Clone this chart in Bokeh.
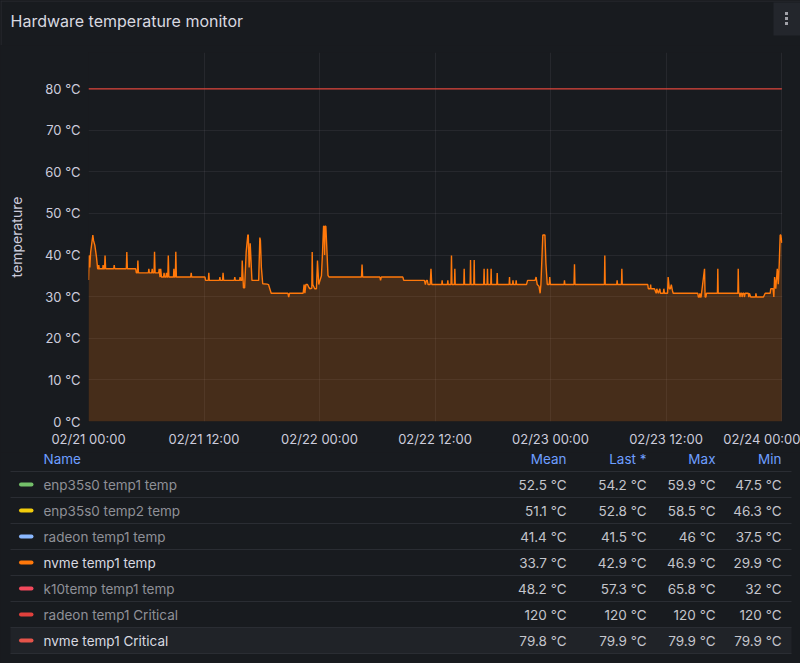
import pandas as pd
from bokeh.plotting import figure
from bokeh.models import Range1d, FixedTicker, PrintfTickFormatter, DatetimeTickFormatter, ColumnDataSource
from bokeh.layouts import column
from bokeh.embed import file_html
from bokeh.resources import INLINE
from bokeh.core.properties import value

# ---------------- data ----------------
TITLE = "Hardware temperature monitor"
Y_LABEL = "temperature"
YEAR = "2024"
x_tick_labels = ["02/21 00:00", "02/21 12:00", "02/22 00:00", "02/22 12:00",
                 "02/23 00:00", "02/23 12:00", "02/24 00:00"]
y_ticks = [0, 10, 20, 30, 40, 50, 60, 70, 80]

# nvme temp1 temp : hours since 02/21 00:00, temperature in degC
nvme_hours = [
    0.00, 0.06, 0.14, 0.22, 0.45, 0.52, 0.66, 0.83, 0.95, 1.03, 1.07, 1.12, 1.48, 1.52, 1.57,
    1.67, 1.72, 1.78, 2.62, 2.67, 2.72, 3.93, 3.98, 4.04, 4.90, 4.97, 5.08, 5.13, 5.19, 6.22,
    6.27, 6.32, 6.57, 6.62, 6.67, 6.81, 6.86, 6.92, 7.30, 7.34, 7.43, 7.50, 7.58, 7.80, 7.85,
    7.92, 8.05, 8.10, 8.16, 8.24, 8.29, 8.35, 8.83, 8.87, 8.92, 9.02, 9.07, 9.13, 10.62, 10.67,
    10.72, 12.10, 12.16, 12.45, 12.50, 12.55, 13.60, 13.65, 13.70, 13.93, 13.98, 14.04, 15.15,
    15.20, 15.25, 15.70, 15.75, 15.80, 15.92, 15.97, 16.10, 16.22, 16.38, 16.55, 16.60, 16.69,
    16.80, 16.98, 17.68, 17.80, 17.86, 17.96, 18.10, 18.55, 18.70, 18.98, 20.72, 20.80, 20.88,
    22.30, 22.40, 22.48, 22.58, 22.75, 22.90, 23.00, 23.20, 23.24, 23.30, 23.50, 23.68, 23.79,
    23.92, 24.05, 24.20, 24.30, 24.42, 24.48, 24.53, 24.58, 24.66, 24.78, 24.88, 25.00, 28.36,
    28.42, 28.48, 30.27, 30.34, 30.42, 32.66, 32.75, 34.90, 35.00, 35.10, 35.20, 35.28, 35.50,
    35.58, 35.66, 36.70, 36.74, 36.78, 37.29, 37.33, 37.37, 37.66, 37.71, 37.76, 38.02, 38.06,
    38.10, 38.99, 39.03, 39.07, 39.65, 39.69, 39.73, 40.03, 40.07, 40.11, 41.06, 41.10, 41.14,
    41.41, 41.45, 41.49, 41.79, 41.83, 41.87, 42.42, 42.46, 42.50, 43.70, 43.74, 43.78, 44.06,
    44.10, 44.14, 44.39, 44.43, 44.47, 45.50, 45.62, 46.40, 46.50, 46.62, 46.80, 46.92, 47.00,
    47.20, 47.42, 47.52, 47.66, 47.86, 47.92, 47.98, 49.41, 49.45, 49.49, 50.44, 50.49, 50.54,
    53.60, 53.64, 53.68, 54.88, 54.92, 54.96, 55.37, 55.41, 55.45, 58.10, 58.16, 58.36, 58.40,
    58.44, 58.75, 58.80, 58.98, 59.04, 59.20, 59.36, 59.42, 59.72, 59.77, 59.84, 60.16, 60.22,
    60.34, 60.45, 60.55, 60.66, 60.74, 63.30, 63.36, 63.46, 63.52, 63.58, 63.64, 64.00, 64.06,
    64.14, 64.20, 65.34, 65.38, 65.42, 67.46, 67.50, 67.55, 67.64, 67.68, 67.74, 67.86, 67.90,
    67.98, 68.10, 68.14, 68.22, 68.55, 68.60, 68.66, 68.80, 69.30, 69.34, 69.40, 70.12, 70.30,
    70.82, 70.88, 71.12, 71.20, 71.28, 71.40, 71.56, 71.66, 71.76, 71.86, 71.93, 72.03,
]
nvme_temp = [
    34.0, 39.9, 37.0, 40.6, 44.8, 43.5, 42.3, 39.5, 36.7, 36.7, 37.6, 36.7, 36.7, 37.6, 36.7,
    36.7, 39.9, 36.7, 36.7, 37.6, 36.7, 36.7, 40.7, 36.7, 36.7, 35.7, 35.7, 38.7, 35.7, 35.7,
    36.7, 35.7, 35.7, 36.7, 35.7, 35.7, 40.8, 35.7, 35.7, 36.7, 34.7, 36.7, 34.7, 34.7, 35.7,
    34.7, 34.7, 35.7, 34.7, 34.7, 39.9, 34.7, 34.7, 36.7, 34.7, 34.7, 40.8, 34.7, 34.7, 35.7,
    34.7, 34.7, 33.9, 33.9, 35.7, 33.9, 33.9, 34.7, 33.9, 33.9, 35.7, 33.9, 33.9,
    34.7, 33.9, 33.9, 34.7, 33.9, 33.9, 38.7, 32.1, 32.1, 40.7, 44.8, 44.8, 37.0,
    42.8, 33.9, 33.9, 44.2, 43.5, 37.0, 33.1, 33.0, 32.9, 30.8, 30.8, 29.9, 30.8,
    30.8, 32.9, 30.8, 32.9, 32.9, 32.2, 31.9, 32.0, 40.7, 32.9, 31.9, 31.9, 38.7,
    32.9, 33.9, 35.0, 40.0, 46.9, 46.9, 40.0, 46.9, 46.9, 40.5, 35.1, 34.7, 34.7,
    37.7, 34.7, 34.7, 33.9, 34.7, 34.7, 33.9, 33.9, 32.9, 33.9, 33.9, 32.9, 32.9,
    36.7, 32.9, 32.9, 33.9, 32.9, 32.9, 33.9, 32.9, 32.9, 39.9, 32.9, 32.9, 36.7,
    32.9, 32.9, 36.7, 32.9, 32.9, 38.8, 32.9, 32.9, 38.8, 32.9, 32.9, 36.7, 32.9,
    32.9, 36.7, 32.9, 32.9, 36.7, 32.9, 32.9, 35.7, 32.9, 32.9, 34.7, 32.9, 32.9,
    33.9, 32.9, 32.9, 33.9, 32.9, 32.9, 33.9, 33.9, 34.7, 32.9, 32.5, 30.8, 32.9,
    44.8, 44.8, 38.0, 32.9, 32.9, 34.7, 32.9, 32.9, 33.9, 32.9, 32.9, 37.8, 32.9,
    32.9, 39.9, 32.9, 32.9, 33.9, 32.9, 32.9, 36.7, 32.9, 32.9, 31.9, 31.9, 32.9,
    31.9, 31.9, 31.9, 30.8, 31.9, 30.8, 31.9, 30.8, 30.8, 31.9, 30.8, 30.8, 34.7,
    31.9, 31.9, 32.9, 31.5, 30.8, 30.8, 29.9, 29.9, 30.8, 29.9, 29.9, 36.7, 29.9,
    29.9, 30.8, 30.8, 36.7, 30.8, 30.8, 36.7, 30.8, 30.8, 29.9, 30.8, 30.8, 29.9,
    30.8, 30.8, 29.9, 30.8, 30.8, 29.9, 30.8, 29.9, 29.9, 30.8, 29.9, 29.9, 30.8,
    30.8, 31.9, 31.9, 29.9, 34.7, 31.9, 36.7, 33.0, 37.8, 44.8, 44.8, 42.9,
]

# nvme temp1 Critical
crit_hours = [0.0, 72.03]
crit_temp = [79.9, 79.9]

legend_names = ["enp35s0 temp1 temp", "enp35s0 temp2 temp", "radeon temp1 temp", "nvme temp1 temp",
                "k10temp temp1 temp", "radeon temp1 Critical", "nvme temp1 Critical"]
legend_colors = ["#73BF69", "#F2CC0C", "#8AB8FF", "#FF780A", "#F2495C", "#E0403C", "#E5544A"]
legend_visible = [False, False, False, True, False, False, True]
stat_headers = ["Mean", "Last *", "Max", "Min"]
stat_mean = [52.5, 51.1, 41.4, 33.7, 48.2, 120, 79.8]
stat_last = [54.2, 52.8, 41.5, 42.9, 57.3, 120, 79.9]
stat_max = [59.9, 58.5, 46, 46.9, 65.8, 120, 79.9]
stat_min = [47.5, 46.3, 37.5, 29.9, 32, 120, 79.9]

# ---------------- style ----------------
BG = "#181b1f"
FONT = "Inter"
TEXT = "#ccccdc"
GRID = "#ccccdc"
ORANGE = "#FF780A"
CRIT = "#DC4339"
W = 800


def blank_fig(h):
    f = figure(width=W, height=h, x_range=Range1d(0, W), y_range=Range1d(h, 0),
               x_axis_location=None, y_axis_location=None, toolbar_location=None,
               output_backend="svg", min_border=0, min_border_left=0, min_border_right=0,
               min_border_top=0, min_border_bottom=0, background_fill_color=BG,
               border_fill_color=BG, outline_line_color=None)
    f.grid.visible = False
    try:
        f.frame_align = False
    except Exception:
        pass
    return f


# ---------------- header ----------------
HH = 45
head = blank_fig(HH)
head.segment(x0=[0], y0=[0.5], x1=[W], y1=[0.5], line_color="#2a2d33", line_width=1)
head.segment(x0=[0.5], y0=[0], x1=[0.5], y1=[HH], line_color="#2a2d33", line_width=1)
head.text(x=[10], y=[20], text=[TITLE], text_font=value(FONT), text_font_size="16px",
          text_color="#d8d9e0", text_baseline="middle", text_align="left")
head.quad(left=[773], right=[800], top=[2], bottom=[35], fill_color="#23262c", line_color=None)
head.scatter(x=[786, 786, 786], y=[13, 18, 23], size=3, marker="square",
             fill_color="#a0a1a8", line_color=None)

# ---------------- chart ----------------
t0 = pd.Timestamp(f"{YEAR}-02-21 00:00")
nvme_t = t0 + pd.to_timedelta(nvme_hours, unit="h")
crit_t = t0 + pd.to_timedelta(crit_hours, unit="h")
tick_times = pd.to_datetime([f"{YEAR}/{s}" for s in x_tick_labels], format="%Y/%m/%d %H:%M")
tick_ms = [int(t.value // 10**6) for t in tick_times]

frame_left, frame_right = 88, 782
x_end = t0 + pd.to_timedelta(72.1, unit="h")

p = figure(width=W, height=407, x_axis_type="datetime",
           x_range=Range1d(t0, x_end), y_range=Range1d(0, 88.65),
           toolbar_location=None, output_backend="svg",
           min_border_left=frame_left, min_border_right=W - frame_right,
           min_border_top=7, min_border_bottom=31,
           background_fill_color=BG, border_fill_color=BG, outline_line_color=None)
try:
    p.frame_align = False
except Exception:
    pass

src = ColumnDataSource(dict(t=nvme_t, v=nvme_temp))
p.varea(x="t", y1=0, y2="v", source=src, fill_color=ORANGE, fill_alpha=0.2)
p.line(x="t", y="v", source=src, line_color=ORANGE, line_width=1.4)
p.line(x=crit_t, y=crit_temp, line_color=CRIT, line_width=1.2)

p.xaxis.ticker = FixedTicker(ticks=tick_ms)
fmt = "%m/%d %H:%M"
p.xaxis.formatter = DatetimeTickFormatter(milliseconds=fmt, seconds=fmt, minsec=fmt, minutes=fmt,
                                          hourmin=fmt, hours=fmt, days=fmt, months=fmt, years=fmt)
p.yaxis.ticker = FixedTicker(ticks=y_ticks)
p.yaxis.formatter = PrintfTickFormatter(format="%d °C")
p.yaxis.axis_label = Y_LABEL
for ax in (p.xaxis, p.yaxis):
    ax.axis_line_color = None
    ax.major_tick_line_color = None
    ax.minor_tick_line_color = None
    ax.major_tick_out = 0
    ax.major_tick_in = 0
    ax.minor_tick_out = 0
    ax.major_label_text_font = FONT
    ax.major_label_text_font_size = "13px"
    ax.major_label_text_color = TEXT
    ax.axis_label_text_font = FONT
    ax.axis_label_text_font_size = "14px"
    ax.axis_label_text_font_style = "normal"
    ax.axis_label_text_color = TEXT
p.xaxis.major_label_standoff = 9
p.yaxis.major_label_standoff = 8
p.yaxis.axis_label_standoff = 17
p.grid.grid_line_color = GRID
p.grid.grid_line_alpha = 0.08
p.xgrid.ticker = FixedTicker(ticks=tick_ms)
p.ygrid.ticker = FixedTicker(ticks=y_ticks)

# ---------------- legend table ----------------
TH = 663 - HH - 407
tab = blank_fig(TH)

n = len(legend_names)
row_h = 26
header_y = 6
first_sep = 19
row_y = [first_sep + row_h * i + 13 for i in range(n)]
sep_y = [first_sep + row_h * i for i in range(n + 1)]

# hovered last row highlight
tab.quad(left=[10], right=[791], top=[sep_y[n - 1]], bottom=[sep_y[n]],
         fill_color="#202328", line_color=None)
tab.segment(x0=[10] * len(sep_y), y0=sep_y, x1=[791] * len(sep_y), y1=sep_y,
            line_color="#2a2d33", line_width=1)

col_right = [566, 646, 715, 781]
tab.text(x=[43], y=[header_y], text=["Name"], text_font=value(FONT), text_font_size="13.5px",
         text_color="#6e9fff", text_baseline="middle", text_align="left")
tab.text(x=col_right, y=[header_y] * 4, text=stat_headers, text_font=value(FONT),
         text_font_size="13.5px", text_color="#6e9fff", text_baseline="middle", text_align="right")

tab.segment(x0=[20.5] * n, y0=row_y, x1=[31] * n, y1=row_y, line_color=legend_colors,
            line_width=4, line_cap="round")
name_colors = ["#d8d9e0" if v else "#8f9097" for v in legend_visible]
tab.text(x=[43] * n, y=row_y, text=legend_names, text_font=value(FONT), text_font_size="13.5px",
         text_color=name_colors, text_baseline="middle", text_align="left")


def fmt_c(v):
    return f"{v:g} °C"


for cx, vals in zip(col_right, [stat_mean, stat_last, stat_max, stat_min]):
    tab.text(x=[cx] * n, y=row_y, text=[fmt_c(v) for v in vals], text_font=value(FONT),
             text_font_size="13.5px", text_color="#c4c5cc", text_baseline="middle",
             text_align="right")

layout = column(head, p, tab, spacing=0, styles={"background-color": BG})
open("out.html", "w").write(file_html(layout, INLINE))
